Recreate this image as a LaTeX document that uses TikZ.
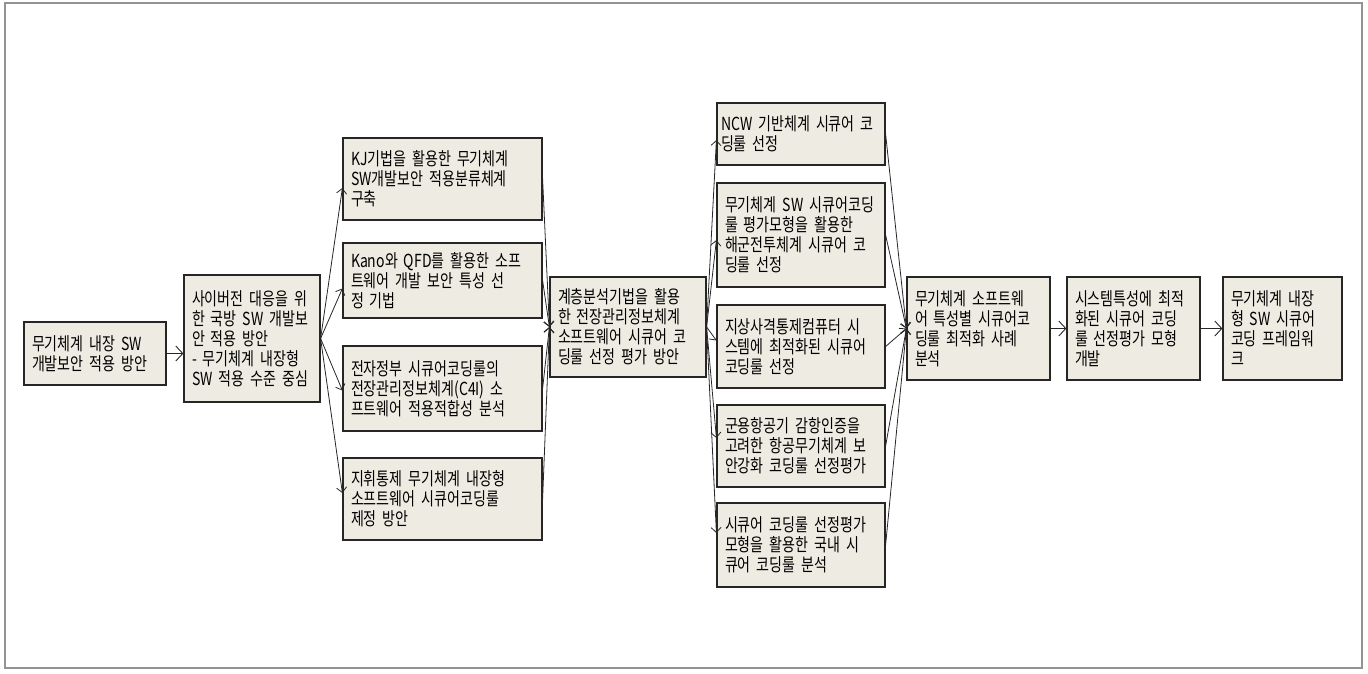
\documentclass[tikz,border=0pt]{standalone}
\usepackage{fontspec}
\newfontfamily\kr[FakeStretch=0.78]{Noto Sans CJK KR}
\usetikzlibrary{arrows.meta}
\definecolor{boxfill}{RGB}{238,236,226}
\begin{document}
\begin{tikzpicture}[x=1pt,y=-1pt,
  box/.style={draw=black!85, line width=1.2pt, fill=boxfill, align=left,
    font=\kr\fontsize{18}{20}\selectfont, inner xsep=8pt, inner ysep=3pt},
  arr/.style={draw=black!85, line width=0.8pt, -{Straight Barb[length=5pt,width=10pt]}},
  bigarr/.style={draw=black!85, line width=0.9pt, -{Straight Barb[length=7pt,width=15pt]}}]
\useasboundingbox (0,0) rectangle (1368,673);
\draw[gray!85, line width=1.5pt] (5,3) rectangle (1362,668);
% column 1 and 2
\node[box, minimum width=142, minimum height=63, text width=126] (a) at (95,353.5)
  {무기체계 내장 SW\\개발보안 적용 방안};
\node[box, minimum width=136, minimum height=127, text width=120] (b) at (252,338.5)
  {사이버전 대응을 위\\한 국방 SW 개발보\\안 적용 방안\\- 무기체계 내장형\\SW 적용 수준 중심};
% column 3
\node[box, minimum width=199, minimum height=82, text width=183] (c1) at (442.5,179)
  {KJ기법을 활용한 무기체계\\SW개발보안 적용분류체계\\구축};
\node[box, minimum width=199, minimum height=75, text width=183] (c2) at (442.5,280.5)
  {Kano와 QFD를 활용한 소프\\트웨어 개발 보안 특성 선\\정 기법};
\node[box, minimum width=199, minimum height=85, text width=183] (c3) at (442.5,388.5)
  {전자정부 시큐어코딩룰의\\전장관리정보체계(C4I) 소\\프트웨어 적용적합성 분석};
\node[box, minimum width=199, minimum height=82, text width=183] (c4) at (442.5,499)
  {지휘통제 무기체계 내장형\\소프트웨어 시큐어코딩룰\\제정 방안};
% column 4
\node[box, minimum width=156, minimum height=100, text width=140] (d) at (628,327)
  {계층분석기법을 활용\\한 전장관리정보체계\\소프트웨어 시큐어 코\\딩룰 선정 평가 방안};
% column 5
\node[box, minimum width=168, minimum height=62, text width=160, inner xsep=4pt] (e1) at (801,134)
  {NCW 기반체계 시큐어 코\\딩룰 선정};
\node[box, minimum width=168, minimum height=104, text width=152] (e2) at (801,235)
  {무기체계 SW 시큐어코딩\\룰 평가모형을 활용한\\해군전투체계 시큐어 코\\딩룰 선정};
\node[box, minimum width=168, minimum height=83, text width=152] (e3) at (801,346.5)
  {지상사격통제컴퓨터 시\\스템에 최적화된 시큐어\\코딩룰 선정};
\node[box, minimum width=168, minimum height=82, text width=152] (e4) at (801,446)
  {군용항공기 감항인증을\\고려한 항공무기체계 보\\안강화 코딩룰 선정평가};
\node[box, minimum width=168, minimum height=84, text width=152] (e5) at (801,545)
  {시큐어 코딩룰 선정평가\\모형을 활용한 국내 시\\큐어 코딩룰 분석};
% columns 6-8
\node[box, minimum width=143, minimum height=103, text width=127] (f) at (978.5,328.5)
  {무기체계 소프트웨\\어 특성별 시큐어코\\딩룰 최적화 사례\\분석};
\node[box, minimum width=133, minimum height=103, text width=117] (g) at (1133.5,328.5)
  {시스템특성에 최적\\화된 시큐어 코딩\\룰 선정평가 모형\\개발};
\node[box, minimum width=119, minimum height=103, text width=103] (h) at (1282.5,328.5)
  {무기체계 내장\\형 SW 시큐어\\코딩 프레임워\\크};
% connectors
\draw[bigarr] (a.east) -- (b.west |- a.east);
\coordinate (bo) at (b.east);
\draw[arr] (bo) -- ([yshift=-9pt]c1.west);
\draw[arr] (bo) -- ([yshift=-8pt]c2.west);
\draw[arr] (bo) -- ([yshift=-2pt]c3.west);
\draw[arr] (bo) -- ([yshift=6pt]c4.west);
\foreach \n in {c1,c2,c3,c4} \draw[arr] (\n.east) -- (d.west);
\draw[arr] (d.east) -- ([yshift=-6pt]e1.west);
\draw[arr] (d.east) -- ([yshift=-5pt]e2.west);
\draw[arr] (d.east) -- ([yshift=6pt]e3.west);
\draw[arr] (d.east) -- ([yshift=8pt]e4.west);
\draw[arr] (d.east) -- ([yshift=12pt]e5.west);
\foreach \n in {e1,e2,e3,e4,e5} \draw[arr] (\n.east) -- (f.west);
\draw[bigarr] (f.east) -- (g.west);
\draw[bigarr] (g.east) -- (h.west);
\end{tikzpicture}
\end{document}
